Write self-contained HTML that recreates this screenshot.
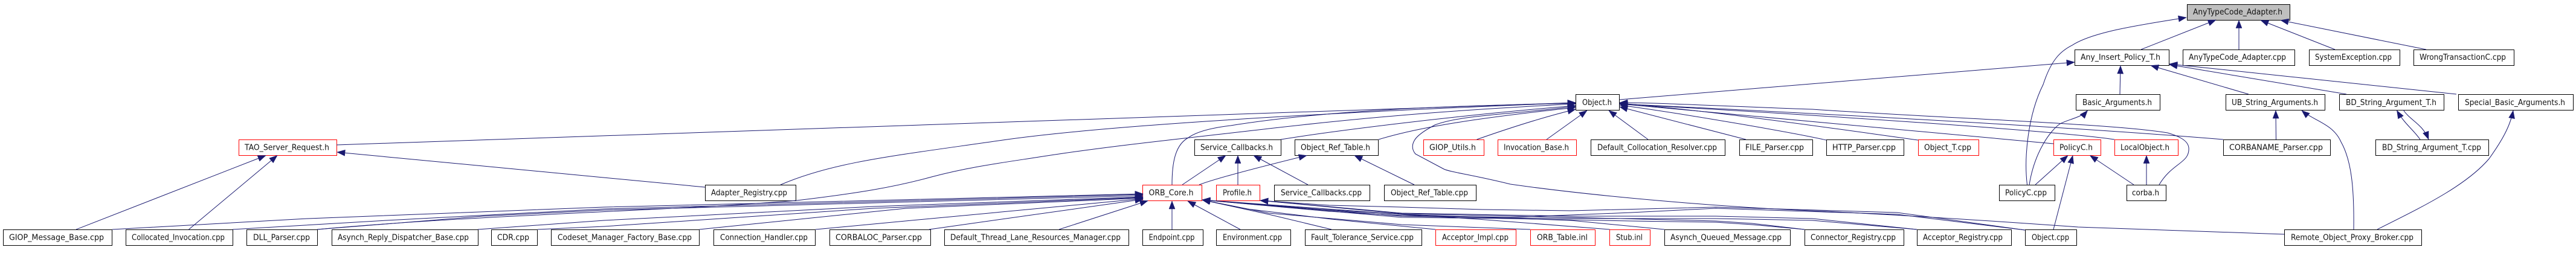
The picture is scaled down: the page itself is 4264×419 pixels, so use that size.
<!DOCTYPE html>
<html><head><meta charset="utf-8"><title>AnyTypeCode_Adapter.h include graph</title>
<style>
html,body{margin:0;padding:0;background:#fff;width:4264px;height:419px;overflow:hidden}
svg{display:block}
text{font-family:"DejaVu Sans","Liberation Sans",sans-serif;font-size:13.5px;fill:#111}
.n{fill:#fff;stroke:#000;stroke-width:1}
.r{fill:#fff;stroke:#f00;stroke-width:1}
.g{fill:#bfbfbf;stroke:#000;stroke-width:1}
.e path{fill:none;stroke:#191970;stroke-width:1;marker-end:url(#a)}
</style></head><body>
<svg xmlns="http://www.w3.org/2000/svg" width="4264" height="419" viewBox="0 0 4264 419">
<defs><marker id="a" markerUnits="userSpaceOnUse" markerWidth="13" markerHeight="10" viewBox="0 0 13 10" refX="13" refY="5" orient="auto" overflow="visible"><path d="M0,0L13,5L0,10Z" fill="#191970" stroke="#191970" stroke-width="0.5"/></marker></defs>

<!-- row A -->
<rect class="g" x="3620.5" y="7.5" width="170" height="26"/><text x="3630" y="24" textLength="148" lengthAdjust="spacingAndGlyphs">AnyTypeCode_Adapter.h</text>
<!-- row B -->
<rect class="n" x="3434.5" y="82.5" width="156" height="26"/><text x="3444" y="99" textLength="132" lengthAdjust="spacingAndGlyphs">Any_Insert_Policy_T.h</text>
<rect class="n" x="3613.5" y="82.5" width="185" height="26"/><text x="3623" y="99" textLength="161" lengthAdjust="spacingAndGlyphs">AnyTypeCode_Adapter.cpp</text>
<rect class="n" x="3822.5" y="82.5" width="150" height="26"/><text x="3832" y="99" textLength="127" lengthAdjust="spacingAndGlyphs">SystemException.cpp</text>
<rect class="n" x="3995.5" y="82.5" width="166" height="26"/><text x="4005" y="99" textLength="143" lengthAdjust="spacingAndGlyphs">WrongTransactionC.cpp</text>
<!-- row C -->
<rect class="n" x="2608.5" y="156.5" width="72" height="26"/><text x="2619" y="174" textLength="49" lengthAdjust="spacingAndGlyphs">Object.h</text>
<rect class="n" x="3436.5" y="156.5" width="139" height="26"/><text x="3447" y="174" textLength="115" lengthAdjust="spacingAndGlyphs">Basic_Arguments.h</text>
<rect class="n" x="3684.5" y="156.5" width="164" height="26"/><text x="3694" y="174" textLength="143" lengthAdjust="spacingAndGlyphs">UB_String_Arguments.h</text>
<rect class="n" x="3872.5" y="156.5" width="173" height="26"/><text x="3883" y="174" textLength="150" lengthAdjust="spacingAndGlyphs">BD_String_Argument_T.h</text>
<rect class="n" x="4069.5" y="156.5" width="190" height="26"/><text x="4080" y="174" textLength="166" lengthAdjust="spacingAndGlyphs">Special_Basic_Arguments.h</text>
<!-- row D -->
<rect class="r" x="395.5" y="231.5" width="162" height="26"/><text x="405" y="248.5" textLength="140" lengthAdjust="spacingAndGlyphs">TAO_Server_Request.h</text>
<rect class="n" x="1977.5" y="231.5" width="143" height="26"/><text x="1987" y="248.5" textLength="120" lengthAdjust="spacingAndGlyphs">Service_Callbacks.h</text>
<rect class="n" x="2143.5" y="231.5" width="138" height="26"/><text x="2153" y="248.5" textLength="115" lengthAdjust="spacingAndGlyphs">Object_Ref_Table.h</text>
<rect class="r" x="2356.5" y="231.5" width="100" height="26"/><text x="2366" y="248.5" textLength="77" lengthAdjust="spacingAndGlyphs">GIOP_Utils.h</text>
<rect class="r" x="2479.5" y="231.5" width="130" height="26"/><text x="2489" y="248.5" textLength="108" lengthAdjust="spacingAndGlyphs">Invocation_Base.h</text>
<rect class="n" x="2633.5" y="231.5" width="222" height="26"/><text x="2644" y="248.5" textLength="198" lengthAdjust="spacingAndGlyphs">Default_Collocation_Resolver.cpp</text>
<rect class="n" x="2879.5" y="231.5" width="121" height="26"/><text x="2889" y="248.5" textLength="97" lengthAdjust="spacingAndGlyphs">FILE_Parser.cpp</text>
<rect class="n" x="3023.5" y="231.5" width="128" height="26"/><text x="3033" y="248.5" textLength="105" lengthAdjust="spacingAndGlyphs">HTTP_Parser.cpp</text>
<rect class="r" x="3175.5" y="231.5" width="100" height="26"/><text x="3185" y="248.5" textLength="78" lengthAdjust="spacingAndGlyphs">Object_T.cpp</text>
<rect class="r" x="3399.5" y="231.5" width="78" height="26"/><text x="3409" y="248.5" textLength="55" lengthAdjust="spacingAndGlyphs">PolicyC.h</text>
<rect class="r" x="3500.5" y="231.5" width="105" height="26"/><text x="3510" y="248.5" textLength="81" lengthAdjust="spacingAndGlyphs">LocalObject.h</text>
<rect class="n" x="3680.5" y="231.5" width="177" height="26"/><text x="3690" y="248.5" textLength="155" lengthAdjust="spacingAndGlyphs">CORBANAME_Parser.cpp</text>
<rect class="n" x="3932.5" y="231.5" width="187" height="26"/><text x="3943" y="248.5" textLength="164" lengthAdjust="spacingAndGlyphs">BD_String_Argument_T.cpp</text>
<!-- row E -->
<rect class="n" x="1167.5" y="306.5" width="150" height="26"/><text x="1177" y="323.5" textLength="126" lengthAdjust="spacingAndGlyphs">Adapter_Registry.cpp</text>
<rect class="r" x="1891.5" y="306.5" width="98" height="26"/><text x="1901.5" y="323.5" textLength="74" lengthAdjust="spacingAndGlyphs">ORB_Core.h</text>
<rect class="r" x="2013.5" y="306.5" width="72" height="26"/><text x="2024" y="323.5" textLength="48" lengthAdjust="spacingAndGlyphs">Profile.h</text>
<rect class="n" x="2109.5" y="306.5" width="158" height="26"/><text x="2120" y="323.5" textLength="134" lengthAdjust="spacingAndGlyphs">Service_Callbacks.cpp</text>
<rect class="n" x="2291.5" y="306.5" width="152" height="26"/><text x="2302" y="323.5" textLength="128" lengthAdjust="spacingAndGlyphs">Object_Ref_Table.cpp</text>
<rect class="n" x="3309.5" y="306.5" width="92" height="26"/><text x="3319" y="323.5" textLength="69" lengthAdjust="spacingAndGlyphs">PolicyC.cpp</text>
<rect class="n" x="3520.5" y="306.5" width="65" height="26"/><text x="3529" y="323.5" textLength="45" lengthAdjust="spacingAndGlyphs">corba.h</text>
<!-- row F -->
<rect class="n" x="5.5" y="380.5" width="180" height="26"/><text x="15" y="397.5" textLength="157" lengthAdjust="spacingAndGlyphs">GIOP_Message_Base.cpp</text>
<rect class="n" x="208.5" y="380.5" width="177" height="26"/><text x="218" y="397.5" textLength="154" lengthAdjust="spacingAndGlyphs">Collocated_Invocation.cpp</text>
<rect class="n" x="408.5" y="380.5" width="117" height="26"/><text x="419" y="397.5" textLength="94" lengthAdjust="spacingAndGlyphs">DLL_Parser.cpp</text>
<rect class="n" x="549.5" y="380.5" width="242" height="26"/><text x="559" y="397.5" textLength="217" lengthAdjust="spacingAndGlyphs">Asynch_Reply_Dispatcher_Base.cpp</text>
<rect class="n" x="813.5" y="380.5" width="76" height="26"/><text x="823" y="397.5" textLength="53" lengthAdjust="spacingAndGlyphs">CDR.cpp</text>
<rect class="n" x="912.5" y="380.5" width="245" height="26"/><text x="923" y="397.5" textLength="222" lengthAdjust="spacingAndGlyphs">Codeset_Manager_Factory_Base.cpp</text>
<rect class="n" x="1181.5" y="380.5" width="168" height="26"/><text x="1192" y="397.5" textLength="145" lengthAdjust="spacingAndGlyphs">Connection_Handler.cpp</text>
<rect class="n" x="1373.5" y="380.5" width="167" height="26"/><text x="1383" y="397.5" textLength="143" lengthAdjust="spacingAndGlyphs">CORBALOC_Parser.cpp</text>
<rect class="n" x="1563.5" y="380.5" width="305" height="26"/><text x="1573" y="397.5" textLength="282" lengthAdjust="spacingAndGlyphs">Default_Thread_Lane_Resources_Manager.cpp</text>
<rect class="n" x="1891.5" y="380.5" width="100" height="26"/><text x="1901.5" y="397.5" textLength="76" lengthAdjust="spacingAndGlyphs">Endpoint.cpp</text>
<rect class="n" x="2013.5" y="380.5" width="123" height="26"/><text x="2024" y="397.5" textLength="98" lengthAdjust="spacingAndGlyphs">Environment.cpp</text>
<rect class="n" x="2160.5" y="380.5" width="193" height="26"/><text x="2170" y="397.5" textLength="170" lengthAdjust="spacingAndGlyphs">Fault_Tolerance_Service.cpp</text>
<rect class="r" x="2376.5" y="380.5" width="133" height="26"/><text x="2387" y="397.5" textLength="110" lengthAdjust="spacingAndGlyphs">Acceptor_Impl.cpp</text>
<rect class="r" x="2533.5" y="380.5" width="107" height="26"/><text x="2544" y="397.5" textLength="84" lengthAdjust="spacingAndGlyphs">ORB_Table.inl</text>
<rect class="r" x="2664.5" y="380.5" width="67" height="26"/><text x="2675" y="397.5" textLength="44" lengthAdjust="spacingAndGlyphs">Stub.inl</text>
<rect class="n" x="2755.5" y="380.5" width="208" height="26"/><text x="2765" y="397.5" textLength="184" lengthAdjust="spacingAndGlyphs">Asynch_Queued_Message.cpp</text>
<rect class="n" x="2987.5" y="380.5" width="164" height="26"/><text x="2997" y="397.5" textLength="141" lengthAdjust="spacingAndGlyphs">Connector_Registry.cpp</text>
<rect class="n" x="3173.5" y="380.5" width="156" height="26"/><text x="3183" y="397.5" textLength="132" lengthAdjust="spacingAndGlyphs">Acceptor_Registry.cpp</text>
<rect class="n" x="3352.5" y="380.5" width="85" height="26"/><text x="3363" y="397.5" textLength="62" lengthAdjust="spacingAndGlyphs">Object.cpp</text>
<rect class="n" x="3781.5" y="380.5" width="227" height="26"/><text x="3792" y="397.5" textLength="203" lengthAdjust="spacingAndGlyphs">Remote_Object_Proxy_Broker.cpp</text>

<g class="e">
<!-- to AnyTypeCode_Adapter.h -->
<path d="M3544,82L3668,33"/>
<path d="M3706,82L3706,33.5"/>
<path d="M3865,82L3742,33.5"/>
<path d="M4016,82L3775,33.5"/>
<path d="M3355.5,306C3350,260 3357,190 3382,140C3395,100 3410,85 3430,75C3465,52 3550,40 3619,29"/>
<!-- to Any_Insert_Policy_T.h -->
<path d="M2681,165L3434,103"/>
<path d="M3509,156L3510,109"/>
<path d="M3722,156L3560,108.5"/>
<path d="M3884,156L3591,107"/>
<path d="M4066,156L3591,106"/>
<!-- Arguments -->
<path d="M3359,306C3368,250 3395,215 3410,205C3425,197 3445,195 3455.5,183"/>
<path d="M3767.5,231L3767,183"/>
<path d="M3896,380C3897,310 3892,265 3875,235C3862,205 3830,200 3810,183"/>
<path d="M4006,231C3995,215 3980,205 3967.5,183"/>
<path d="M3978,182C3990,200 4010,205 4020,231"/>
<path d="M3935,380C4000,347 4080,310 4120,263C4140,235 4155,210 4160,183"/>
<!-- to Object.h from left -->
<path d="M557,240L2608,170"/>
<path d="M1292,306C1380,268 1480,258 1660,232C1800,212 2100,190 2608,170"/>
<path d="M525,380C800,355 1100,350 1319,332C1420,320 1480,310 1542,293C1610,275 1670,268 1733,258C1850,240 2000,225 2100,213C2300,190 2450,180 2608,172"/>
<path d="M1940,306C1940,270 1945,240 1967,228C1985,215 2020,210 2037,208C2200,182 2400,175 2608,171"/>
<path d="M2120,231C2200,218 2400,192 2608,175"/>
<path d="M2282,231C2350,210 2450,195 2608,178"/>
<path d="M2444.5,231C2490,215 2550,195 2608,181"/>
<path d="M2560,231L2627,183"/>
<path d="M3781,388L3440,376C3300,366 3150,356 3000,349C2850,343 2640,325 2500,305C2440,290 2400,285 2390,280L2343,255C2337,248 2337,240 2341,233C2345,225 2360,215 2375,207C2420,190 2500,190 2608,176"/>
<!-- to Object.h from right -->
<path d="M2728,231L2663,183"/>
<path d="M2890,231L2681,177"/>
<path d="M3023,232C2980,222 2800,190 2681,174"/>
<path d="M3175,232C3050,215 2850,185 2681,171"/>
<path d="M3399,238L2681,172"/>
<path d="M3500,231C3400,216 3000,190 2681,172"/>
<path d="M3680,231C3400,208 2950,185 2681,172"/>
<path d="M3574,306C3595,270 3625,270 3623,245C3622,232 3605,225 3588,220C3500,205 3200,195 3000,181C2850,176 2750,170 2681,170"/>
<!-- PolicyC.h, LocalObject.h -->
<path d="M3369,306L3423,257.5"/>
<path d="M3532,306L3459.5,257.5"/>
<path d="M3399,380L3431,257.5"/>
<path d="M3553,306L3553,257.5"/>
<!-- TAO_Server_Request.h -->
<path d="M1167,310L558,252"/>
<path d="M126,380L440,257.5"/>
<path d="M312.5,380L459,257.5"/>
<!-- Ref table / callbacks -->
<path d="M2341,306L2242,257.5"/>
<path d="M1985,306C2013,295 2100,273 2163,257.5"/>
<path d="M1957,306L2029,257.5"/>
<path d="M2049,306L2049,257.5"/>
<path d="M2165,306L2075,257.5"/>
<!-- to ORB_Core.h from left -->
<path d="M186,380L510,362L1000,343L1892,321"/>
<path d="M385,380L640,365L1000,346L1892,322"/>
<path d="M525,380L800,358L1000,348L1892,324"/>
<path d="M791,380L1000,365L1446,342L1892,326"/>
<path d="M890,380L1000,375L1446,345L1892,327"/>
<path d="M1157.5,380L1500,345L1892,328"/>
<path d="M1350,380L1892,329"/>
<path d="M1538,380L1892,330"/>
<path d="M1753,380L1900,332.5"/>
<!-- to ORB_Core.h from below and right -->
<path d="M1940,380L1940,333"/>
<path d="M2053,380L1966,333"/>
<path d="M2204,380L2100,355L1990,331"/>
<path d="M2376,380L2204,363L2064,346L1990,331"/>
<path d="M2533,380L2320,372L2100,353L1990,331"/>
<path d="M2664.5,380L2446,363L2191,347L1990,331"/>
<path d="M2755,380L2600,365L2320,355L1990,331"/>
<path d="M2987,380L2900,372L2840,368L2700,366L2500,362L2320,360L1990,331"/>
<path d="M3173,380L3000,365L2840,362L2700,362L2500,361L2320,358L1990,331"/>
<path d="M3352,381L3140,355L2840,345L2700,352L2500,360L2320,357L2200,350L1990,331"/>
<!-- to Profile.h -->
<path d="M3352,381L3140,352L2840,343L2600,349L2453,347L2320,343L2200,340L2086,332"/>
<path d="M3173,380L3000,362L2840,358L2600,358L2320,353L2086,332"/>
<path d="M2987,380L2900,370L2840,366L2600,360L2320,354L2086,332"/>
</g>
</svg>
</body></html>
